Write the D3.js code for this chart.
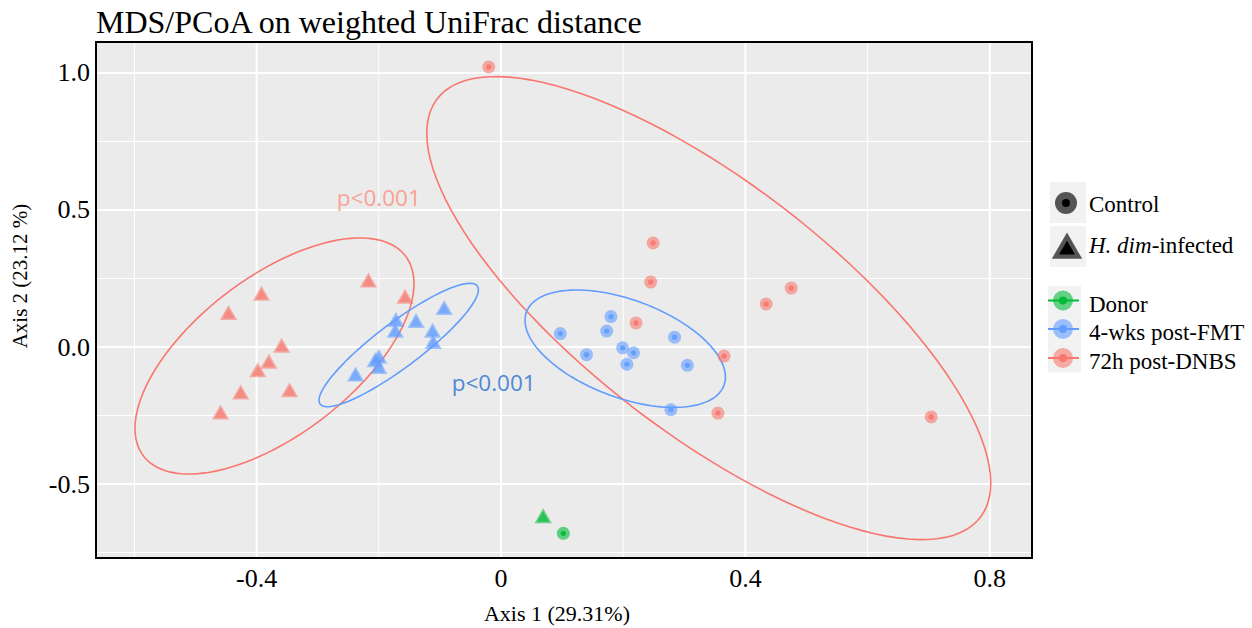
<!DOCTYPE html>
<html>
<head>
<meta charset="utf-8">
<script src="https://cdn.jsdelivr.net/npm/d3@7"></script>
<style>
  body { margin: 0; background: #fff; }
  text { font-family: "Liberation Serif", "Times New Roman", serif; }
</style>
</head>
<body>
<svg width="1252" height="628"></svg>
<script>
// colours per group (ggplot defaults)
let groups = ['Donor', '4-wks post-FMT', '72h post-DNBS']
let colors = ['#00BA38', '#619CFF', '#F8766D']

// points: [axis1, axis2]
let donorControl = [[0.102, -0.680]]
let donorInfected = [[0.069, -0.625]]
let fmtControl = [[0.097, 0.049], [0.180, 0.111], [0.173, 0.058], [0.140, -0.028], [0.199, -0.003],
                  [0.217, -0.021], [0.206, -0.063], [0.284, 0.036], [0.305, -0.067], [0.278, -0.229]]
let fmtInfected = [[-0.093, 0.135], [-0.172, 0.091], [-0.139, 0.088], [-0.173, 0.052], [-0.112, 0.052],
                   [-0.111, 0.011], [-0.200, -0.043], [-0.206, -0.056], [-0.200, -0.080], [-0.238, -0.108]]
let dnbsControl = [[-0.020, 1.022], [0.249, 0.380], [0.245, 0.237], [0.221, 0.088], [0.365, -0.033],
                   [0.355, -0.241], [0.434, 0.157], [0.475, 0.215], [0.704, -0.255]]
let dnbsInfected = [[-0.392, 0.187], [-0.446, 0.117], [-0.217, 0.235], [-0.157, 0.176], [-0.359, -0.003],
                    [-0.380, -0.061], [-0.398, -0.092], [-0.346, -0.165], [-0.426, -0.173], [-0.459, -0.246]]

// confidence ellipses: centre, half extents, correlation (data units)
let ellipses = [
  {group: 2, cx: 0.340, cy: 0.142, sx: 0.4615, sy: 0.845, r: -0.755},
  {group: 2, cx: -0.3707, cy: -0.0328, sx: 0.2283, sy: 0.4307, r: 0.613},
  {group: 1, cx: -0.1674, cy: 0.0073, sx: 0.1304, sy: 0.2252, r: 0.895},
  {group: 1, cx: 0.2033, cy: -0.0062, sx: 0.164, sy: 0.2142, r: -0.484}
]

let xTicks = [-0.4, 0, 0.4, 0.8]
let xTickLabels = ['-0.4', '0', '0.4', '0.8']
let xMinor = [-0.6, -0.2, 0.2, 0.6]
let yTicks = [-0.5, 0, 0.5, 1.0]
let yTickLabels = ['-0.5', '0.0', '0.5', '1.0']
let yMinor = [-0.75, -0.25, 0.25, 0.75]

let svg = d3.select('svg')
let pLeft = 96, pRight = 1032, pTop = 42, pBottom = 558

let x = d3.scaleLinear().domain([-0.6628, 0.869]).range([pLeft, pRight])
let y = d3.scaleLinear().domain([-0.770, 1.1131]).range([pBottom, pTop])

svg.append('rect')
   .attr('x', pLeft).attr('y', pTop)
   .attr('width', pRight - pLeft).attr('height', pBottom - pTop)
   .attr('fill', '#EBEBEB')

// grid
svg.selectAll('.xminor').data(xMinor).enter().append('line')
   .attr('x1', d => x(d)).attr('x2', d => x(d)).attr('y1', pTop).attr('y2', pBottom)
   .attr('stroke', '#fff').attr('stroke-width', 1)
svg.selectAll('.yminor').data(yMinor).enter().append('line')
   .attr('y1', d => y(d)).attr('y2', d => y(d)).attr('x1', pLeft).attr('x2', pRight)
   .attr('stroke', '#fff').attr('stroke-width', 1)
svg.selectAll('.xmajor').data(xTicks).enter().append('line')
   .attr('x1', d => x(d)).attr('x2', d => x(d)).attr('y1', pTop).attr('y2', pBottom)
   .attr('stroke', '#fff').attr('stroke-width', 2)
svg.selectAll('.ymajor').data(yTicks).enter().append('line')
   .attr('y1', d => y(d)).attr('y2', d => y(d)).attr('x1', pLeft).attr('x2', pRight)
   .attr('stroke', '#fff').attr('stroke-width', 2)

// ellipses
let ellipsePath = (e) => {
  let pts = d3.range(0, 361, 3).map(a => {
    let t = a * Math.PI / 180
    return [x(e.cx + e.sx * Math.cos(t)),
            y(e.cy + e.sy * (e.r * Math.cos(t) + Math.sqrt(1 - e.r * e.r) * Math.sin(t)))]
  })
  return d3.line().curve(d3.curveLinearClosed)(pts)
}
svg.selectAll('.ellipse').data(ellipses).enter().append('path')
   .attr('d', ellipsePath)
   .attr('fill', 'none')
   .attr('stroke', d => colors[d.group])
   .attr('stroke-width', 1.6)

// markers
let drawCircles = (data, color) => {
  let g = svg.append('g')
  g.selectAll('.outer').data(data).enter().append('circle')
   .attr('cx', d => x(d[0])).attr('cy', d => y(d[1])).attr('r', 6.5)
   .attr('fill', color).attr('fill-opacity', 0.6)
  g.selectAll('.inner').data(data).enter().append('circle')
   .attr('cx', d => x(d[0])).attr('cy', d => y(d[1])).attr('r', 2.6)
   .attr('fill', color).attr('fill-opacity', 0.9)
}
let drawTriangles = (data, color) => {
  let g = svg.append('g')
  g.selectAll('.outer').data(data).enter().append('path')
   .attr('d', d3.symbol().type(d3.symbolTriangle).size(130))
   .attr('transform', d => `translate(${x(d[0])},${y(d[1])})`)
   .attr('fill', color).attr('fill-opacity', 0.55)
  g.selectAll('.inner').data(data).enter().append('path')
   .attr('d', d3.symbol().type(d3.symbolTriangle).size(65))
   .attr('transform', d => `translate(${x(d[0])},${y(d[1])})`)
   .attr('fill', color).attr('fill-opacity', 0.6)
}
drawTriangles(dnbsInfected, colors[2])
drawTriangles(fmtInfected, colors[1])
drawCircles(dnbsControl, colors[2])
drawCircles(fmtControl, colors[1])
drawTriangles(donorInfected, colors[0])
drawCircles(donorControl, colors[0])

// p-value labels
svg.append('text').text('p<0.001')
   .attr('x', x(-0.2)).attr('y', y(0.514))
   .attr('text-anchor', 'middle')
   .style('font-family', '"Open Sans", sans-serif').style('font-size', '22.5px')
   .attr('fill', '#F8A294')
svg.append('text').text('p<0.001')
   .attr('x', x(-0.012)).attr('y', y(-0.162))
   .attr('text-anchor', 'middle')
   .style('font-family', '"Open Sans", sans-serif').style('font-size', '22.5px')
   .attr('fill', '#4F89D6')

// panel border
svg.append('rect')
   .attr('x', pLeft).attr('y', pTop)
   .attr('width', pRight - pLeft).attr('height', pBottom - pTop)
   .attr('fill', 'none').attr('stroke', '#000').attr('stroke-width', 2)

// axes tick labels
svg.selectAll('.xlab').data(xTicks).enter().append('text')
   .attr('x', d => x(d)).attr('y', 587)
   .attr('text-anchor', 'middle').style('font-size', '26px')
   .text((d, i) => xTickLabels[i])
svg.selectAll('.ylab').data(yTicks).enter().append('text')
   .attr('x', 90).attr('y', d => y(d) + 8.5)
   .attr('text-anchor', 'end').style('font-size', '26px')
   .text((d, i) => yTickLabels[i])

svg.append('text').text('Axis 1 (29.31%)')
   .attr('x', 557).attr('y', 621)
   .attr('text-anchor', 'middle').style('font-size', '22px')
svg.append('text').text('Axis 2 (23.12 %)')
   .attr('transform', 'translate(27,276) rotate(-90)')
   .attr('text-anchor', 'middle').style('font-size', '21px')

svg.append('text').text('MDS/PCoA on weighted UniFrac distance')
   .attr('x', 96).attr('y', 33)
   .style('font-size', '32px')

// legend: shape
let lg = svg.append('g')
lg.append('rect').attr('x', 1050).attr('y', 182).attr('width', 36).attr('height', 41).attr('fill', '#F2F2F2')
lg.append('rect').attr('x', 1050).attr('y', 226).attr('width', 36).attr('height', 41).attr('fill', '#F2F2F2')
lg.append('circle').attr('cx', 1066).attr('cy', 203).attr('r', 11).attr('fill', '#555')
lg.append('circle').attr('cx', 1066).attr('cy', 203).attr('r', 4).attr('fill', '#000')
lg.append('path').attr('d', d3.symbol().type(d3.symbolTriangle).size(400))
  .attr('transform', 'translate(1067,250)').attr('fill', '#555')
lg.append('path').attr('d', d3.symbol().type(d3.symbolTriangle).size(110))
  .attr('transform', 'translate(1067,250)').attr('fill', '#000')
lg.append('text').text('Control').attr('x', 1089).attr('y', 212).style('font-size', '23px')
let hd = lg.append('text').attr('x', 1089).attr('y', 253).style('font-size', '23px')
hd.append('tspan').text('H. dim').style('font-style', 'italic')
hd.append('tspan').text('-infected')

// legend: group
let keyY = [300.5, 329, 358]
groups.forEach((gname, i) => {
  lg.append('rect').attr('x', 1048).attr('y', keyY[i] - 14.5).attr('width', 33).attr('height', 29).attr('fill', '#F2F2F2')
  lg.append('line').attr('x1', 1048).attr('x2', 1079).attr('y1', keyY[i]).attr('y2', keyY[i])
    .attr('stroke', colors[i]).attr('stroke-width', 2)
  lg.append('circle').attr('cx', 1063).attr('cy', keyY[i]).attr('r', 10)
    .attr('fill', colors[i]).attr('fill-opacity', 0.6)
  lg.append('circle').attr('cx', 1063).attr('cy', keyY[i]).attr('r', 4)
    .attr('fill', colors[i])
  lg.append('text').text(gname).attr('x', 1089).attr('y', keyY[i] + 11).style('font-size', '23px')
})
</script>
</body>
</html>
